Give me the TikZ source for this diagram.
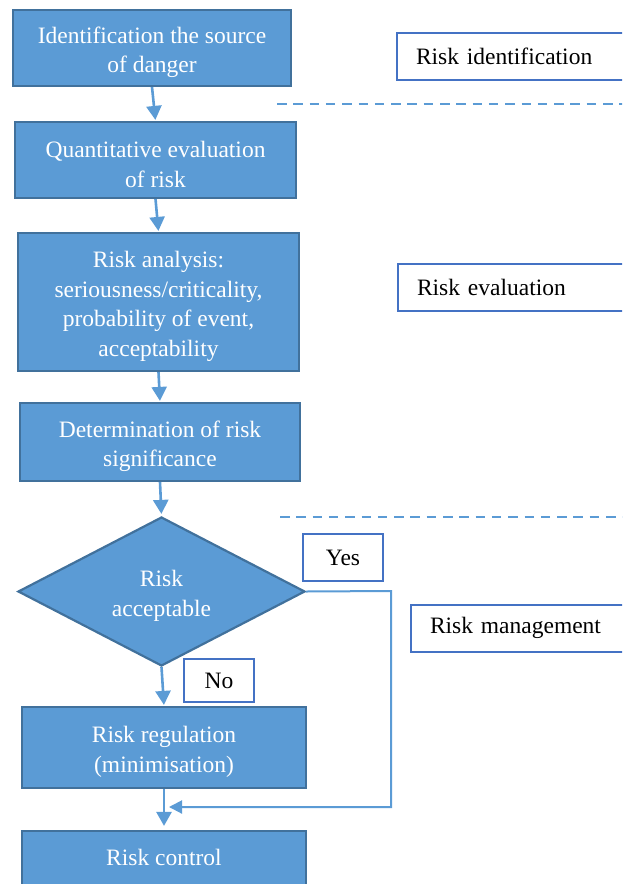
\documentclass[tikz,border=0pt]{standalone}
\usepackage{fontspec}
\setmainfont{Liberation Serif}
\usetikzlibrary{shapes.geometric,arrows.meta}
\definecolor{stepfill}{HTML}{5B9BD5}
\definecolor{stepline}{HTML}{41719C}
\definecolor{labelline}{HTML}{4472C4}
\definecolor{flowline}{HTML}{5B9BD5}
% a tall invisible rule on the first line sets the text block a little lower
\newcommand{\boxlead}{\rule{0pt}{25pt}}
\tikzset{
  boxfont/.style={font=\fontsize{23.5}{29.5}\selectfont},
  stepbox/.style={draw=stepline, fill=stepfill, line width=2.2pt, text=white,
    align=center, inner sep=0pt, boxfont},
  decision/.style={diamond, shape aspect=1.926, draw=stepline, fill=stepfill,
    line width=2.2pt, text=white, align=center, inner sep=0pt, boxfont},
  tagbox/.style={draw=labelline, fill=white, line width=2pt, text=black,
    align=center, inner sep=0pt, boxfont},
  phasebox/.style={draw=labelline, fill=white, line width=2pt, text=black,
    anchor=west, align=left, inner xsep=19pt, inner ysep=0pt, text width=212pt,
    minimum height=47pt, boxfont},
  flow/.style={draw=flowline, line width=2.6pt, -{Triangle[length=14pt,width=15pt]}},
  bypass/.style={draw=flowline, line width=2pt, -{Triangle[length=13pt,width=13pt]}},
  divider/.style={draw=flowline, line width=2.4pt, dash pattern=on 9.5pt off 6.8pt}
}
\begin{document}
\begin{tikzpicture}[x=1pt,y=-1pt]
  \useasboundingbox (0,0) rectangle (622,884);
  \clip (0,0) rectangle (622,884);

  % main process steps
  \node[stepbox, minimum width=278pt, minimum height=76pt] (src) at (152,48)
    {\boxlead Identification the source\\of danger};
  \node[stepbox, minimum width=281pt, minimum height=76pt] (quant) at (155.5,160)
    {\boxlead Quantitative evaluation\\of risk};
  \node[stepbox, minimum width=281pt, minimum height=138pt] (anal) at (158.5,302)
    {\boxlead Risk analysis:\\seriousness/criticality,\\probability of event,\\acceptability};
  \node[stepbox, minimum width=280pt, minimum height=78pt] (signif) at (160,442)
    {\boxlead Determination of risk\\significance};
  \node[decision, minimum width=287pt, minimum height=149pt] (accept) at (161.5,591.5)
    {\boxlead Risk\\acceptable};
  \node[stepbox, minimum width=284pt, minimum height=81pt] (regul) at (164,747.5)
    {\boxlead Risk regulation\\(minimisation)};
  \node[stepbox, minimum width=284pt, minimum height=60pt,
        text height=16pt, text depth=8pt] (ctrl) at (164,861)
    {Risk control};

  % decision labels
  \node[tagbox, minimum width=80pt, minimum height=47pt] (yes) at (343,557.5) {Yes};
  \node[tagbox, minimum width=70pt, minimum height=43pt] (no) at (219,680.5) {No};

  % phase labels on the right
  \node[phasebox] (phid) at (396,56.5) {Risk identification};
  \node[phasebox] (phev) at (397,287.5) {Risk evaluation};
  \node[phasebox] (phmg) at (410,628) {Risk management};

  % phase dividers, running out past the right edge
  \coordinate (d1a) at (277,104);
  \coordinate (d1b) at (640,104);
  \coordinate (d2a) at (280,517);
  \coordinate (d2b) at (640,517);
  \draw[divider] (d1a) -- (d1b);
  \draw[divider] (d2a) -- (d2b);

  % connectors
  \draw[flow, shorten >=1pt] (src.south) -- (quant.north);
  \draw[flow, shorten >=1pt] (quant.south) -- (anal.north);
  \draw[flow, shorten >=1pt] (anal.south) -- (signif.north);
  \draw[flow, shorten >=2pt] (signif.south) -- (accept.north);
  \draw[flow, shorten >=1pt] (accept.south) -- (regul.north);
  \draw[flow, shorten >=4pt] (regul.south) -- (ctrl.north);

  % "yes" bypass joins the flow above risk control
  \coordinate (merge) at (169,807);
  \draw[bypass] (accept.east) -- (391,591) -- (391,807) -- (merge);
\end{tikzpicture}
\end{document}
